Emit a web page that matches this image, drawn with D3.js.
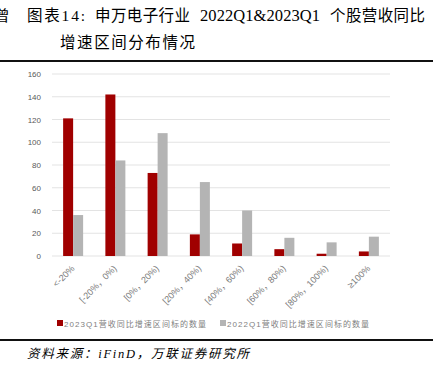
<!DOCTYPE html>
<html><head><meta charset="utf-8">
<script src="https://cdn.jsdelivr.net/npm/d3@7"></script>
<style>body{margin:0;background:#fff}svg{display:block}</style>
</head><body>
<svg id="c" width="439" height="373"></svg>
<script>
const categories = ["<-20%", "[-20%，0%)", "[0%，20%)", "[20%，40%)", "[40%，60%)", "[60%，80%)", "[80%，100%)", "≥100%"];
const series2023 = [121, 142, 73, 19, 11, 6, 2, 4];
const series2022 = [36, 84, 108, 65, 40, 16, 12, 17];
const seriesNames = ["2023Q1营收同比增速区间标的数量", "2022Q1营收同比增速区间标的数量"];
const yTicks = [0, 20, 40, 60, 80, 100, 120, 140, 160];
const colors = ["#a00000", "#b4b4b4"];

const svg = d3.select("#c");
const serif = "'Liberation Serif','Noto Sans CJK SC',serif";
const cjk = "'Noto Sans CJK SC',sans-serif";

// title
svg.append("text").attr("x", -5).attr("y", 21).attr("font-family", cjk).attr("font-size", 14.5).attr("fill", "#000").text("曾");
const titleParts = [
  {t: "图表14:", x: 27, w: 58, fs: 15.5},
  {t: "申万电子行业", x: 95, w: 95, fs: 15.5},
  {t: "2022Q1&2023Q1", x: 200, w: 120, fs: 16.5},
  {t: "个股营收同比", x: 330, w: 95, fs: 15.5}
];
const t1 = svg.append("text").attr("y", 21).attr("font-family", serif).attr("fill", "#000");
titleParts.forEach(p => t1.append("tspan").attr("x", p.x).attr("font-size", p.fs).attr("textLength", p.w).attr("lengthAdjust", "spacing").text(p.t));
svg.append("text").attr("x", 60).attr("y", 48).attr("font-family", serif).attr("font-size", 15.5).attr("fill", "#000")
  .attr("textLength", 135).attr("lengthAdjust", "spacing").text("增速区间分布情况");
svg.append("line").attr("x1", 0).attr("x2", 433).attr("y1", 61).attr("y2", 61).attr("stroke", "#111").attr("stroke-width", 2.2);

// chart
const x0 = d3.scaleBand().domain(categories).range([52, 390]);
const x1 = d3.scaleBand().domain([0, 1]).range([0, 20]);
const y = d3.scaleLinear().domain([0, 160]).range([256, 74]);

const g = svg.append("g");
g.selectAll("line.grid").data(yTicks).enter().append("line")
  .attr("x1", 52).attr("x2", 390).attr("y1", d => y(d)).attr("y2", d => y(d))
  .attr("stroke", "#e3e3e3").attr("stroke-width", 1);

const yAxis = d3.axisLeft(y).tickValues(yTicks).tickSize(0).tickPadding(0);
const ya = g.append("g").attr("transform", "translate(41,0)").call(yAxis);
ya.select(".domain").remove();
ya.selectAll("text").attr("font-family", "'Liberation Sans',Arial,sans-serif").attr("font-size", 8).attr("fill", "#595959");

const data = [series2023, series2022];
data.forEach((s, si) => {
  g.selectAll("rect.s" + si).data(s).enter().append("rect")
    .attr("x", (d, i) => x0(categories[i]) + x0.bandwidth() / 2 - 10 + x1(si))
    .attr("width", x1.bandwidth())
    .attr("y", d => y(d))
    .attr("height", d => y(0) - y(d))
    .attr("fill", colors[si]);
});

// x labels
const xa = g.append("g").attr("transform", "translate(0,256)").call(d3.axisBottom(x0).tickSize(0).tickPadding(0));
xa.select(".domain").remove();
xa.selectAll("text")
  .attr("font-family", "'Liberation Sans','Noto Sans CJK SC',sans-serif").attr("font-size", 9).attr("fill", "#7a7a7a")
  .attr("text-anchor", "end").attr("dy", 0)
  .attr("transform", "translate(2,13) rotate(-45)");

// legend
const leg = svg.append("g");
const lx = [57, 220];
seriesNames.forEach((n, i) => {
  leg.append("rect").attr("x", lx[i]).attr("y", 320).attr("width", 6).attr("height", 6).attr("fill", colors[i]);
  leg.append("text").attr("x", lx[i] + 7).attr("y", 326.5).attr("font-family", "'Liberation Sans','Noto Sans CJK SC',sans-serif")
    .attr("font-size", 8).attr("fill", "#7f7f7f").attr("textLength", 142).attr("lengthAdjust", "spacing").text(n);
});

svg.append("line").attr("x1", 0).attr("x2", 433).attr("y1", 340).attr("y2", 340).attr("stroke", "#111").attr("stroke-width", 2.2);
svg.append("text").attr("x", 27).attr("y", 358).attr("font-family", serif).attr("font-style", "italic")
  .attr("font-size", 12.5).attr("fill", "#000").attr("textLength", 222).attr("lengthAdjust", "spacing")
  .text("资料来源：iFinD，万联证券研究所");
</script>
</body></html>
